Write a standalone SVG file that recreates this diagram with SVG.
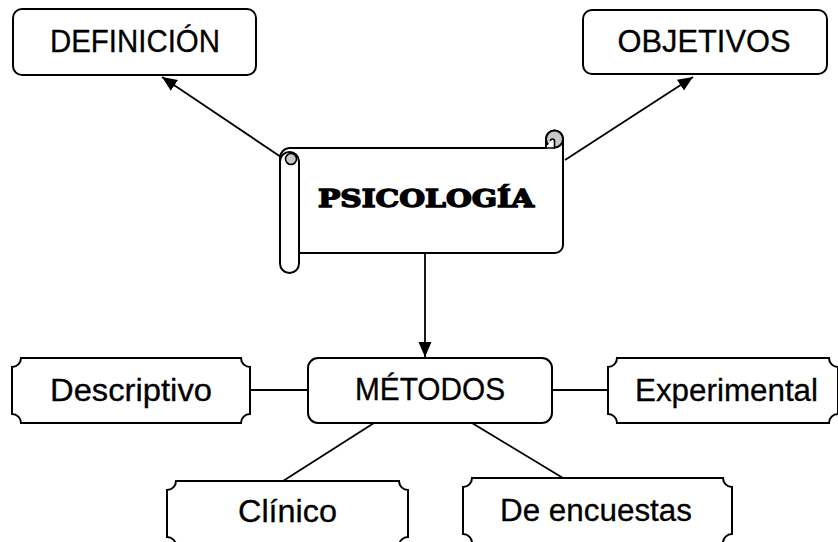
<svg xmlns="http://www.w3.org/2000/svg" width="838" height="542" viewBox="0 0 838 542">
<style>
.box{fill:#fff;stroke:#000;stroke-width:2}
.lbl{font-family:"Liberation Sans",Arial,sans-serif;font-size:31px;fill:#000;stroke:#000;stroke-width:0.3;text-anchor:middle}
.con{stroke:#000;stroke-width:1.8;fill:none}
.title{font-family:"DejaVu Serif",serif;font-weight:bold;font-size:24px;fill:#000;stroke:#000;stroke-width:1.4;text-anchor:middle}
</style>
<defs>
<marker id="arr" markerUnits="userSpaceOnUse" markerWidth="16" markerHeight="14" refX="15" refY="6.5" orient="auto">
<path d="M0,0 L15,6.5 L0,13 Z" fill="#000"/>
</marker>
</defs>
<g id="connectors">
<line class="con" x1="281" y1="157" x2="162" y2="77" marker-end="url(#arr)"/>
<line class="con" x1="565" y1="160" x2="693" y2="77" marker-end="url(#arr)"/>
<line class="con" x1="425" y1="253" x2="425" y2="357" marker-end="url(#arr)"/>
<line class="con" x1="250" y1="390" x2="308" y2="390"/>
<line class="con" x1="552" y1="390" x2="608" y2="390"/>
<line class="con" x1="374" y1="423" x2="283" y2="481"/>
<line class="con" x1="472" y1="423" x2="563" y2="478"/>
</g>
<g id="definicion">
<rect class="box" x="13" y="9" width="243" height="66" rx="9"/>
<text class="lbl" x="135" y="52" textLength="170" lengthAdjust="spacingAndGlyphs">DEFINICIÓN</text>
</g>
<g id="objetivos">
<rect class="box" x="583" y="10" width="244" height="64" rx="9"/>
<text class="lbl" x="704" y="52" textLength="173" lengthAdjust="spacingAndGlyphs">OBJETIVOS</text>
</g>
<g id="psicologia">
<path class="box" d="M289,148 H546 V139 A8.5,8.5 0 0 1 563,139 V245 A8,8 0 0 1 555,253 H299 V263 H280 V158 A10,10 0 0 1 289,148 Z"/>
<circle cx="554.5" cy="139" r="8.5" fill="#c8c8c8" stroke="#000" stroke-width="2"/>
<path d="M546,148 H554.5 V141 A2,2 0 0 0 550.5,141" fill="#fff" stroke="#000" stroke-width="1.6"/>
<rect class="box" x="280" y="152" width="19" height="121" rx="9.5"/>
<circle cx="291" cy="159" r="5.5" fill="#c8c8c8" stroke="#000" stroke-width="1.6"/>
<text class="title" x="426" y="207" textLength="216" lengthAdjust="spacingAndGlyphs">PSICOLOGÍA</text>
</g>
<g id="metodos">
<rect class="box" x="308" y="358" width="244" height="65" rx="10"/>
<text class="lbl" x="430" y="400" textLength="150" lengthAdjust="spacingAndGlyphs">MÉTODOS</text>
</g>
<g id="descriptivo">
<path class="box" d="M21,358 H241 A9,9 0 0 0 250,367 V414 A9,9 0 0 0 241,423 H21 A9,9 0 0 0 12,414 V367 A9,9 0 0 0 21,358 Z"/>
<text class="lbl" x="131" y="401" textLength="162" lengthAdjust="spacingAndGlyphs">Descriptivo</text>
</g>
<g id="experimental">
<path class="box" d="M617,358 H829 A9,9 0 0 0 838,367 V414 A9,9 0 0 0 829,423 H617 A9,9 0 0 0 608,414 V367 A9,9 0 0 0 617,358 Z"/>
<text class="lbl" x="726.5" y="401" textLength="183" lengthAdjust="spacingAndGlyphs">Experimental</text>
</g>
<g id="clinico">
<path class="box" d="M176,481 H399 A9,9 0 0 0 408,490 V537 A9,9 0 0 0 399,546 H176 A9,9 0 0 0 167,537 V490 A9,9 0 0 0 176,481 Z"/>
<text class="lbl" x="287.5" y="522" textLength="99" lengthAdjust="spacingAndGlyphs">Clínico</text>
</g>
<g id="encuestas">
<path class="box" d="M472,478 H723 A9,9 0 0 0 732,487 V534 A9,9 0 0 0 723,543 H472 A9,9 0 0 0 463,534 V487 A9,9 0 0 0 472,478 Z"/>
<text class="lbl" x="596" y="521" textLength="192" lengthAdjust="spacingAndGlyphs">De encuestas</text>
</g>
</svg>
